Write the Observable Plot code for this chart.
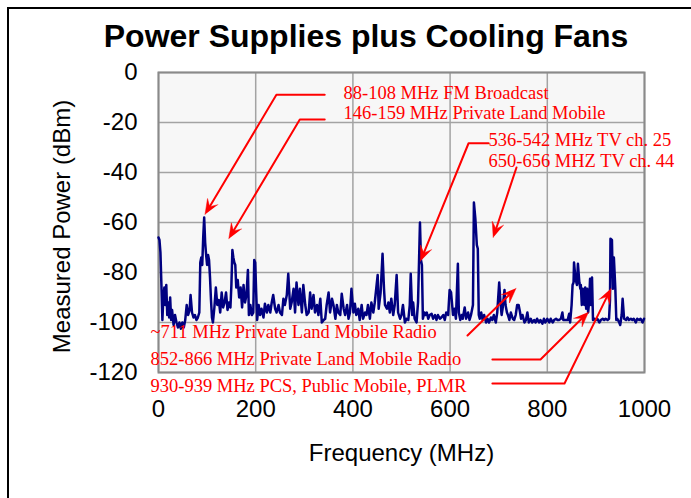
<!DOCTYPE html>
<html>
<head>
<meta charset="utf-8">
<script src="https://cdn.jsdelivr.net/npm/d3@7"></script>
<script src="https://cdn.jsdelivr.net/npm/@observablehq/plot@0.6"></script>
<style>
  body { margin: 0; background: #fff; }
  #page { position: relative; width: 691px; height: 498px; overflow: hidden; background: #fff; }
  #border { position: absolute; left: 7px; top: 7px; width: 720px; height: 520px; border-left: 2px solid #000; border-top: 2px solid #000; }
  #title { position: absolute; left: 0; top: 0; width: 691px; height: 60px; }
  #title h1 { position: absolute; left: 366px; top: 20px; transform: translateX(-50%); margin: 0; font: bold 32px "Liberation Sans", Arial, sans-serif; line-height: 32px; white-space: nowrap; color: #000; }
  #chart { position: absolute; left: 0; top: 60px; }
</style>
</head>
<body>
<div id="page">
  <div id="border"></div>
  <div id="title"><h1>Power Supplies plus Cooling Fans</h1></div>
  <div id="chart"></div>
</div>
<script>
const xTicks = [0, 200, 400, 600, 800, 1000];
const yTicks = [0, -20, -40, -60, -80, -100, -120];

const freq = [0,2,4,6,8,10,12,14,16,18,20,22,24,26,28,31,34,37,40,43,46,49,52,55,58,61,64,66,69,72,75,78,81,84,86,88,90,92,94,96,98,100,102,104,106,108,110,112,115,118,121,124,127,130,133,136,139,142,145,148,150,152,154,156,158,160,163,166,169,172,175,178,181,184,186,189,192,195,197,199,201,203,206,209,212,216,219,223,226,230,233,236,240,243,247,250,254,257,260,264,267,271,274,278,281,284,288,291,295,298,302,305,309,312,315,319,322,326,329,333,336,340,343,346,350,353,357,360,364,367,370,374,377,381,384,388,391,394,397,401,404,407,411,414,418,421,425,428,431,435,438,442,445,448,451,453,457,461,464,466,470,473,476,479,483,486,490,493,497,500,503,507,510,514,517,519,522,524,527,531,534,536,538,540,542,544,547,549,552,555,558,562,565,569,572,575,579,582,586,589,592,596,599,602,606,609,612,616,618,621,624,626,630,633,637,640,643,647,649,652,655,657,659,661,664,667,670,674,677,680,684,687,690,694,697,701,704,706,708,712,714,717,719,722,725,729,732,735,738,741,744,746,749,753,756,759,762,766,769,773,776,779,783,786,790,793,796,800,804,807,811,814,818,821,824,828,831,833,838,842,845,847,850,852,854,855,858,861,863,866,868,869,871,873,876,878,880,882,884,886,888,890,892,894,897,900,903,907,910,914,917,920,924,927,929,930,933,935,937,940,942,944,948,950,953,955,958,962,965,968,972,975,978,982,985,989,992,996,999];

const power = [-66,-67,-72,-85,-99,-90,-86,-93,-85,-97,-92,-98,-90,-99,-95,-101,-97,-100,-102,-100,-102.5,-100,-102,-99,-93,-97,-95,-89,-96,-98,-97,-99,-98,-96,-76,-74,-77,-66,-58,-68,-73,-77,-73,-75,-82,-91,-98,-100,-94,-86,-93,-91,-96,-88,-94,-92,-88,-95,-92,-94,-85,-71,-74,-76,-77,-86,-83,-90,-86,-94,-85,-92,-89,-79,-97,-93,-97,-96,-75,-76,-88,-99,-93,-97,-94.5,-98,-92.5,-96,-93,-96,-92,-89,-94.5,-96,-93,-96,-97,-90.5,-93,-89,-80.5,-94.5,-92,-86.5,-96,-84,-93,-86.5,-96,-85,-93,-97,-96,-88,-94.5,-89,-96,-93,-97,-90.5,-100,-99,-98.5,-93,-88,-96,-90.5,-93,-98.5,-93,-96,-97,-88.5,-94.5,-97,-93,-98.5,-96,-86.5,-96,-92.5,-97,-94.5,-99,-93,-98.5,-96,-97,-93,-98.5,-92,-96,-92,-86.5,-81,-94.5,-88,-72.5,-86.5,-93,-94.5,-92,-96,-90.5,-97,-93,-81,-96,-98.5,-97,-93,-100,-98.5,-99,-93,-80.5,-97,-92,-98.5,-100,-92,-76,-60,-75,-77,-98.5,-96,-97,-96,-98.5,-97,-96.5,-98.5,-97,-99,-97,-98.5,-98,-97,-99,-96,-97,-87,-88,-97,-94.5,-98.5,-76.5,-96,-99,-97,-98.5,-94,-98.5,-96,-99,-97,-93,-52,-58.5,-69,-70.5,-97,-98.5,-96,-99,-97,-100,-98.5,-100,-98,-99,-97,-100,-96,-84,-93,-97,-94.5,-87,-93,-96,-97,-99,-96,-98.5,-99,-97,-93,-93,-96,-98.5,-97,-100,-99,-96,-100,-98.5,-100,-99,-100,-98.5,-100,-99,-100.5,-98.5,-100,-98.5,-100,-98.5,-100,-99,-98.5,-99,-99,-98.5,-96,-99,-99,-99,-96.5,-100,-93,-85,-84,-76,-82.5,-85,-76.5,-84,-86.5,-85,-93,-86.5,-93,-86,-94.5,-86.5,-96,-92,-82.5,-93,-82,-99,-98.5,-99,-98.5,-100,-99,-98.5,-99,-98.5,-99,-98.5,-91,-66.5,-67,-86.5,-74,-86.5,-99,-98.5,-100,-101,-97,-90.5,-98.5,-99,-98,-99,-98.5,-99,-98.5,-100,-98.5,-99,-98.5,-100,-98.5];

const noteText = [
  "88-108 MHz FM Broadcast",
  "146-159 MHz Private Land Mobile",
  "536-542 MHz TV ch. 25",
  "650-656 MHZ TV ch. 44",
  "~711 MHz Private Land Mobile Radio",
  "852-866 MHz Private Land Mobile Radio",
  "930-939 MHz PCS, Public Mobile, PLMR"
];
const noteFreq = [380.7, 380.7, 679, 679, -16.5, -16.5, -16.5];
const notePower = [-8.1, -16.4, -27.2, -35.3, -104, -114.6, -125.6];

// annotation arrows in data units (freq MHz, dBm); last point is the arrow tip
const arrowPaths = [
  [[342, -8.9], [242.6, -8.9], [95.7, -56.8]],
  [[342, -18.8], [290.8, -18.8], [144.7, -66.5]],
  [[679, -28.3], [638, -28.3], [539, -75.5]],
  [[736.6, -38], [688.7, -66]],
  [[635.8, -105.2], [735.6, -86.3]],
  [[687, -114.8], [786, -114.8], [884.8, -95.8]],
  [[687, -124.4], [835.4, -124.4], [931, -86.4]]
];

const W = 691, H = 438, mL = 158, mR = 47, mT = 12, mB = 126;
const sx = d3.scaleLinear([0, 1000], [mL, W - mR]);
const sy = d3.scaleLinear([-120, 0], [H - mB, mT]);

const spectrum = freq.map((f, i) => ({f, p: power[i]}));
const notes = noteText.map((t, i) => ({t, f: noteFreq[i], p: notePower[i]}));

const shafts = [], heads = [];
arrowPaths.forEach((pts, i) => {
  const n = pts.length;
  const [tf, tp] = pts[n - 1], [pf, pp] = pts[n - 2];
  const tx = sx(tf), ty = sy(tp), qx = sx(pf), qy = sy(pp);
  const len = Math.hypot(tx - qx, ty - qy);
  const ux = (tx - qx) / len, uy = (ty - qy) / len;
  const nx = -uy, ny = ux;
  const L = 15, Wd = 6, N = 0.6 * L;
  const poly = [[tx, ty], [tx - L * ux + Wd * nx, ty - L * uy + Wd * ny], [tx - N * ux, ty - N * uy], [tx - L * ux - Wd * nx, ty - L * uy - Wd * ny]];
  poly.forEach(([x, y]) => heads.push({id: i, f: sx.invert(x), p: sy.invert(y)}));
  pts.forEach((pt, j) => { if (j < n - 1) shafts.push({id: i, f: pt[0], p: pt[1]}); });
  shafts.push({id: i, f: sx.invert(tx - N * ux), p: sy.invert(ty - N * uy)});
});

const red = "#ff0000";
const chart = Plot.plot({
  width: W, height: H,
  marginLeft: mL, marginRight: mR, marginTop: mT, marginBottom: mB,
  style: {fontFamily: '"Liberation Sans", Arial, sans-serif', background: "transparent", overflow: "visible", color: "#000"},
  x: {domain: [0, 1000], label: null},
  y: {domain: [-120, 0], label: null},
  marks: [
    Plot.frame({fill: "#f7f7f7", stroke: null}),
    Plot.gridX(xTicks, {stroke: "#a3a3a3", strokeOpacity: 1, strokeWidth: 1.5}),
    Plot.gridY(yTicks, {stroke: "#a3a3a3", strokeOpacity: 1, strokeWidth: 1.5}),
    Plot.frame({stroke: "#8a8a8a", strokeWidth: 2}),
    Plot.axisX(xTicks, {tickSize: 0, tickPadding: 27, fontSize: 24, label: null, tickFormat: d => String(d), fill: "#000"}),
    Plot.axisY(yTicks, {tickSize: 0, tickPadding: 21, fontSize: 24, label: null, tickFormat: d => String(d), fill: "#000"}),
    Plot.line(spectrum, {x: "f", y: "p", stroke: "#000080", strokeWidth: 2.5, strokeLinejoin: "round"}),
    Plot.line(shafts, {x: "f", y: "p", z: "id", stroke: red, strokeWidth: 2}),
    Plot.line(heads, {x: "f", y: "p", z: "id", fill: red, stroke: red, strokeWidth: 0.5}),
    Plot.text(notes, {x: "f", y: "p", text: "t", fill: red, fontSize: 18.5, fontFamily: '"Liberation Serif", "Times New Roman", serif', textAnchor: "start", lineAnchor: "middle"}),
    Plot.text(["Measured Power (dBm)"], {text: d => d, frameAnchor: "left", dx: -96, dy: 4, rotate: -90, textAnchor: "middle", lineAnchor: "middle", fontSize: 24, fill: "#000"}),
    Plot.text(["Frequency (MHz)"], {text: d => d, frameAnchor: "bottom", dy: 81, textAnchor: "middle", lineAnchor: "middle", fontSize: 24, fill: "#000"})
  ]
});
document.getElementById("chart").appendChild(chart);
</script>
</body>
</html>
